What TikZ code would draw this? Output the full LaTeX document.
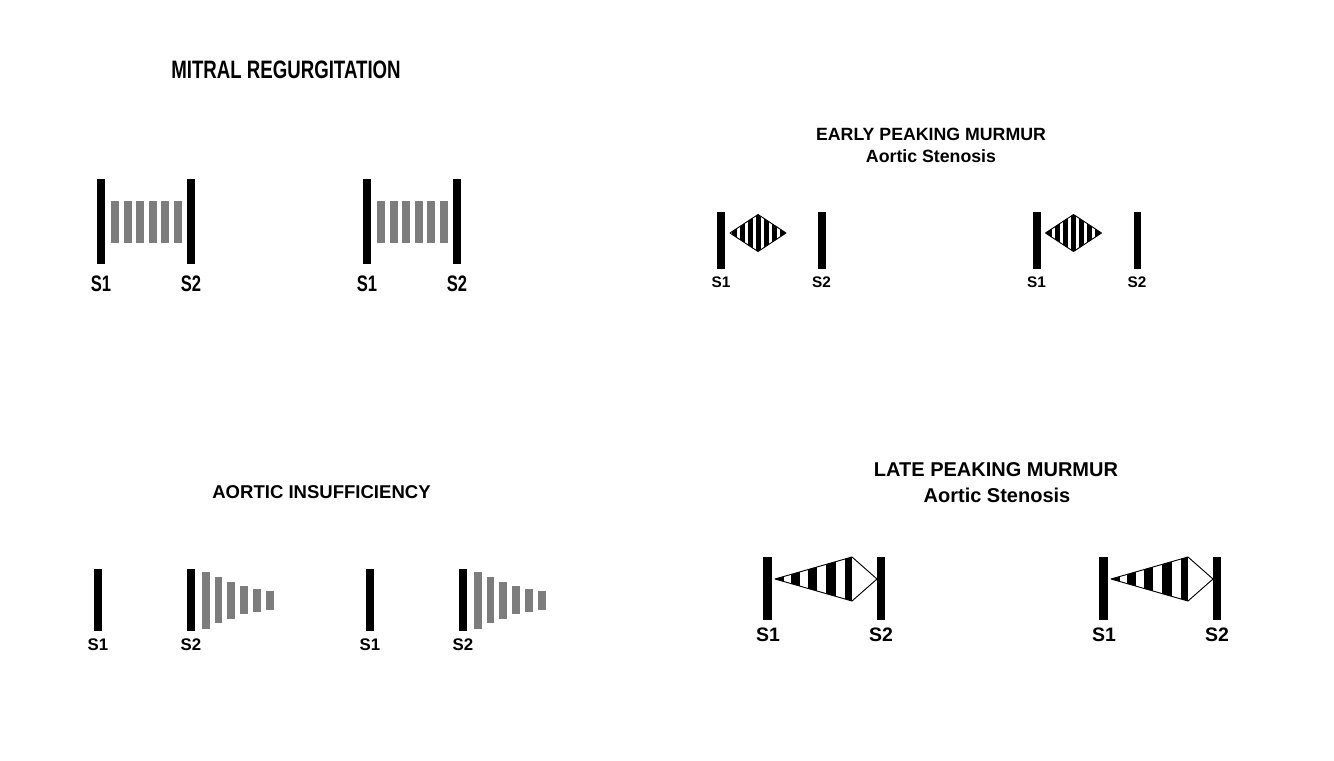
\documentclass[tikz,border=0pt]{standalone}
\usepackage{fontspec}
\setmainfont{Liberation Sans}
\newfontfamily\condfont[FakeStretch=0.74]{Liberation Sans}
\definecolor{bargray}{RGB}{125,125,125}
\tikzset{
  sbar/.style={fill=black},
  gbar/.style={fill=bargray},
  outl/.style={draw=black,line width=0.7pt,line join=round},
  mtitle/.style={anchor=base,inner sep=0pt,font=\condfont\bfseries\fontsize{18.9}{20}\selectfont},
  mlab/.style={anchor=base,inner sep=0pt,font=\condfont\bfseries\fontsize{16.8}{18}\selectfont},
  etitle/.style={anchor=base,inner sep=0pt,font=\bfseries\fontsize{13.3}{15}\selectfont},
  elab/.style={anchor=base,inner sep=0pt,font=\bfseries\fontsize{11.5}{13}\selectfont},
  atitle/.style={anchor=base,inner sep=0pt,font=\bfseries\fontsize{13.9}{15}\selectfont},
  alab/.style={anchor=base,inner sep=0pt,font=\bfseries\fontsize{12.6}{14}\selectfont},
  ltitle/.style={anchor=base,inner sep=0pt,font=\bfseries\fontsize{15}{17}\selectfont},
  llab/.style={anchor=base,inner sep=0pt,font=\bfseries\fontsize{14.6}{16}\selectfont},
}
\begin{document}
\begin{tikzpicture}[x=0.75pt,y=-0.75pt]
\useasboundingbox (0,0) rectangle (1334,760);
\fill[white] (0,0) rectangle (1334,760);

% ---------------- Mitral regurgitation ----------------
\node[mtitle] (mtitle) at (286,78) {MITRAL REGURGITATION};
\foreach \o/\n in {0/a,266/b}{
  \fill[sbar] (97+\o,179) rectangle (105+\o,264);
  \fill[sbar] (187+\o,179) rectangle (195+\o,264);
  \foreach \i in {0,...,5}
    \fill[gbar] (111+\o+12.5*\i,201) rectangle (119+\o+12.5*\i,243);
  \node[mlab] (ms1\n) at (101+\o,291) {S1};
  \node[mlab] (ms2\n) at (191+\o,291) {S2};
}

% ---------------- Early peaking murmur ----------------
\node[etitle] (etitle) at (931,140) {EARLY PEAKING MURMUR};
\node[etitle] (esub) at (931,162) {Aortic Stenosis};
\foreach \o/\n in {0/a,315.5/b}{
  \fill[sbar] (717+\o,212) rectangle (725+\o,269);
  \fill[sbar] (818+\o,212) rectangle (825.5+\o,269);
  \begin{scope}
    \clip (730+\o,233) -- (758+\o,214.5) -- (786+\o,233) -- (758+\o,251.5) -- cycle;
    \foreach \k in {-3,...,3}
      \fill[sbar] (755.5+\o+8*\k,210) rectangle (760.5+\o+8*\k,256);
  \end{scope}
  \draw[outl] (730+\o,233) -- (758+\o,214.5) -- (786+\o,233) -- (758+\o,251.5) -- cycle;
  \node[elab] (es1\n) at (721+\o,287) {S1};
  \node[elab] (es2\n) at (821.5+\o,287) {S2};
}

% ---------------- Aortic insufficiency ----------------
\node[atitle] (atitle) at (321.5,498) {AORTIC INSUFFICIENCY};
\foreach \o/\n in {0/a,272/b}{
  \fill[sbar] (94+\o,569) rectangle (102+\o,631);
  \fill[sbar] (187+\o,569) rectangle (195+\o,631);
  \foreach \xl/\yt/\yb in {202/572/629,214.5/577/623,227/582/619,240/586/614,253/589/612,266/591/610}
    \fill[gbar] (\xl+\o,\yt) rectangle (\xl+7.5+\o,\yb);
  \node[alab] (as1\n) at (98+\o,650) {S1};
  \node[alab] (as2\n) at (191+\o,650) {S2};
}

% ---------------- Late peaking murmur ----------------
\node[ltitle] (ltitle) at (996,476) {LATE PEAKING MURMUR};
\node[ltitle] (lsub) at (997,502) {Aortic Stenosis};
\foreach \o/\n in {0/a,336/b}{
  \fill[sbar] (763+\o,557) rectangle (772+\o,620);
  \fill[sbar] (877+\o,557) rectangle (885+\o,620);
  \begin{scope}
    \clip (775+\o,579) -- (852+\o,557) -- (852+\o,601) -- cycle;
    \foreach \xa/\xb in {775/784,791/800,808/817,826/836,845/853}
      \fill[sbar] (\xa+\o,550) rectangle (\xb+\o,610);
  \end{scope}
  \draw[outl] (775+\o,579) -- (852+\o,557) -- (877+\o,579) -- (852+\o,601) -- cycle;
  \node[llab] (ls1\n) at (768+\o,641) {S1};
  \node[llab] (ls2\n) at (881+\o,641) {S2};
}
\end{tikzpicture}
\end{document}
